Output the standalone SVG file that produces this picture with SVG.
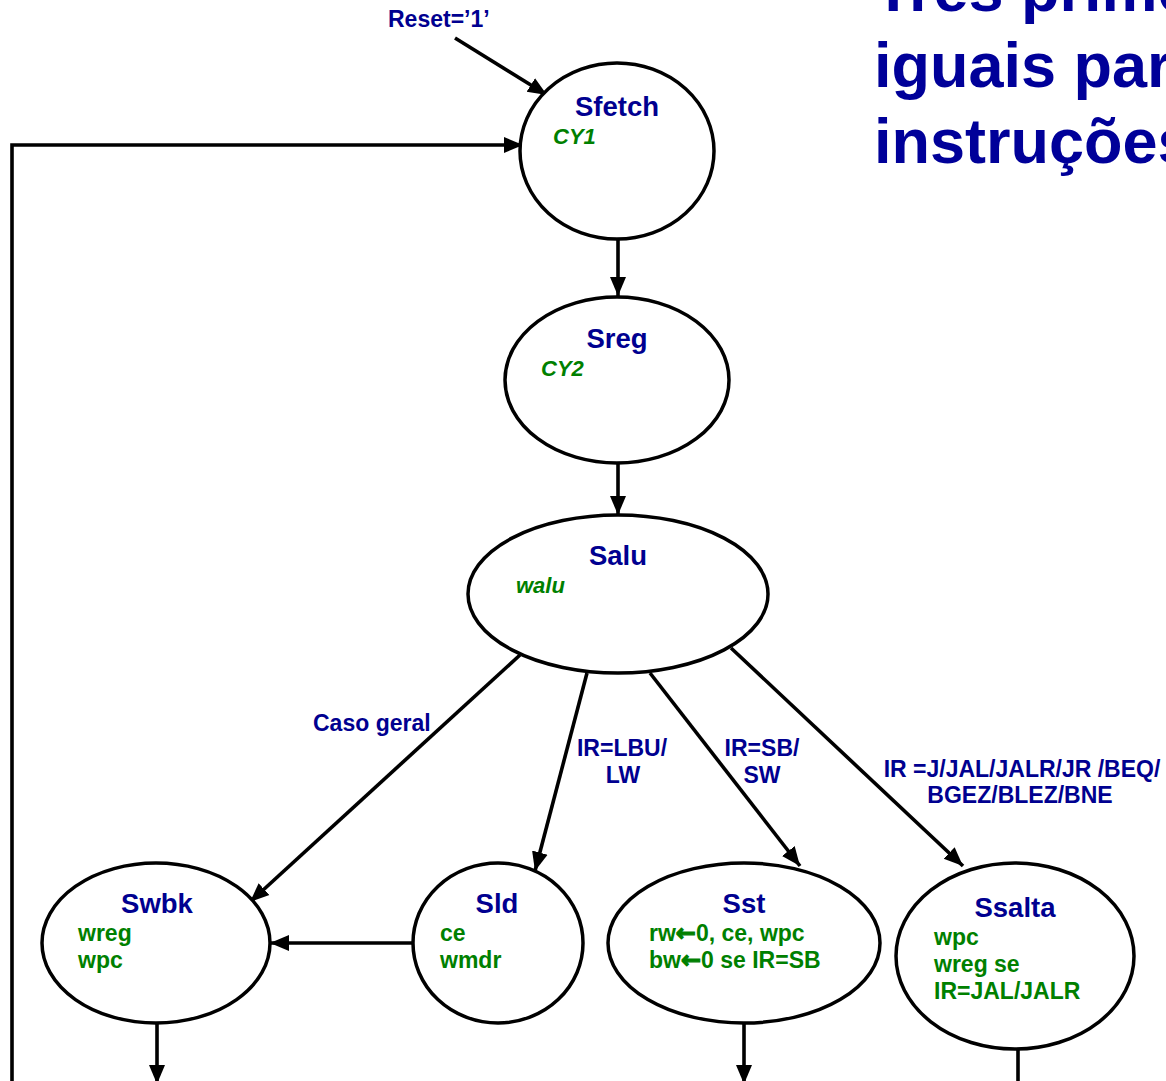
<svg xmlns="http://www.w3.org/2000/svg" width="1166" height="1081" viewBox="0 0 1166 1081">
  <style>
    text { font-family: "Liberation Sans", Arial, sans-serif; font-weight: bold; }
    .state { fill: #ffffff; stroke: #000000; stroke-width: 3.5; }
    .name { fill: #000090; font-size: 27.5px; text-anchor: middle; }
    .act { fill: #008000; font-size: 23px; }
    .cy { fill: #008000; font-size: 22px; font-style: italic; }
    .cond { fill: #000090; font-size: 23px; }
    .mid { text-anchor: middle; }
    .title { fill: #000099; font-size: 63px; }
    .larr { font-family: "DejaVu Sans", sans-serif; font-size: 24px; stroke: #008000; stroke-width: 1.2; }
    .edge { fill: none; stroke: #000000; stroke-width: 3.6; }
    .arr { marker-end: url(#head); }
  </style>
  <defs>
    <marker id="head" markerUnits="userSpaceOnUse" markerWidth="20" markerHeight="18" refX="19" refY="9" orient="auto">
      <path d="M0,1 L19,9 L0,17 Z" fill="#000000"/>
    </marker>
  </defs>

  <rect width="1166" height="1081" fill="#ffffff"/>

  <!-- heading, running past the right edge -->
  <g id="heading">
    <text class="title" x="874" y="11">Três primeiros</text>
    <text class="title" x="874" y="87">iguais para</text>
    <text class="title" x="874" y="163">instruções</text>
  </g>

  <!-- transitions -->
  <g id="connectors">
    <line class="edge arr" x1="455" y1="38" x2="547" y2="95"/>
    <polyline class="edge arr" points="12,1081 12,145 523,145"/>
    <line class="edge arr" x1="618" y1="240" x2="618" y2="296"/>
    <line class="edge arr" x1="618" y1="463" x2="618" y2="515"/>
    <line class="edge arr" x1="520" y1="655" x2="250" y2="902"/>
    <line class="edge arr" x1="587" y1="673" x2="535" y2="871"/>
    <line class="edge arr" x1="650" y1="673" x2="800" y2="866"/>
    <line class="edge arr" x1="731" y1="648" x2="963" y2="866"/>
    <line class="edge arr" x1="413" y1="943" x2="270" y2="943"/>
    <line class="edge arr" x1="157" y1="1022" x2="157" y2="1084"/>
    <line class="edge arr" x1="744" y1="1023" x2="744" y2="1084"/>
    <line class="edge" x1="1018" y1="1050" x2="1018" y2="1081"/>
  </g>

  <!-- transition conditions -->
  <g id="labels">
    <text class="cond" x="388" y="27">Reset=’1’</text>
    <text class="cond" x="313" y="731">Caso geral</text>
    <text class="cond mid" x="622" y="756">IR=LBU/</text>
    <text class="cond mid" x="623" y="783">LW</text>
    <text class="cond mid" x="762" y="756">IR=SB/</text>
    <text class="cond mid" x="762" y="783">SW</text>
    <text class="cond mid" x="1022" y="777">IR =J/JAL/JALR/JR /BEQ/</text>
    <text class="cond mid" x="1020" y="803">BGEZ/BLEZ/BNE</text>
  </g>

  <g id="Sfetch">
    <ellipse class="state" cx="617" cy="151" rx="97" ry="88"/>
    <text class="name" x="617" y="116">Sfetch</text>
    <text class="cy" x="553" y="144">CY1</text>
  </g>

  <g id="Sreg">
    <ellipse class="state" cx="617" cy="380" rx="112" ry="83"/>
    <text class="name" x="617" y="348">Sreg</text>
    <text class="cy" x="541" y="376">CY2</text>
  </g>

  <g id="Salu">
    <ellipse class="state" cx="618" cy="594" rx="150" ry="79"/>
    <text class="name" x="618" y="565">Salu</text>
    <text class="cy" x="516" y="593">walu</text>
  </g>

  <g id="Swbk">
    <ellipse class="state" cx="156" cy="943" rx="114" ry="80"/>
    <text class="name" x="157" y="913">Swbk</text>
    <text class="act" x="78" y="941">wreg</text>
    <text class="act" x="78" y="968">wpc</text>
  </g>

  <g id="Sld">
    <ellipse class="state" cx="498" cy="943" rx="85" ry="80"/>
    <text class="name" x="497" y="913">Sld</text>
    <text class="act" x="440" y="941">ce</text>
    <text class="act" x="440" y="968">wmdr</text>
  </g>

  <g id="Sst">
    <ellipse class="state" cx="744" cy="943" rx="136" ry="80"/>
    <text class="name" x="744" y="913">Sst</text>
    <text class="act" x="649" y="941">rw<tspan class="larr">←</tspan>0, ce, wpc</text>
    <text class="act" x="649" y="968">bw<tspan class="larr">←</tspan>0 se IR=SB</text>
  </g>

  <g id="Ssalta">
    <ellipse class="state" cx="1015" cy="956" rx="119" ry="93"/>
    <text class="name" x="1015" y="917">Ssalta</text>
    <text class="act" x="934" y="945">wpc</text>
    <text class="act" x="934" y="972">wreg se</text>
    <text class="act" x="934" y="999">IR=JAL/JALR</text>
  </g>
</svg>
